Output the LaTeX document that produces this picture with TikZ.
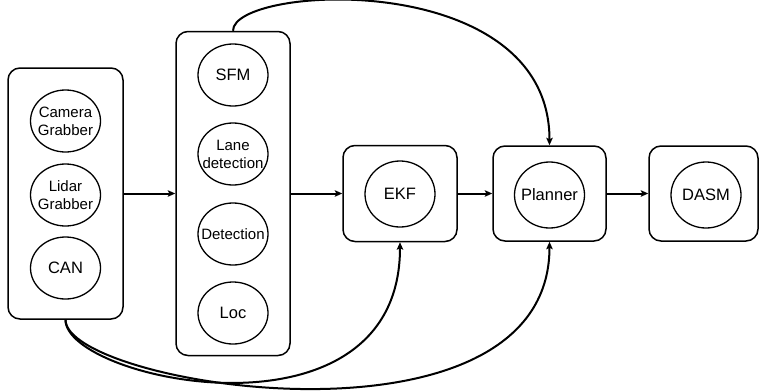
\documentclass[tikz,border=0pt]{standalone}
\usepackage{fontspec}
\setmainfont{Liberation Sans}
\usetikzlibrary{shapes.geometric,arrows.meta}
\tikzset{
  grp/.style={draw, line width=1.5pt, rounded corners=12pt},
  unit/.style={draw, ellipse, line width=1.3pt, inner sep=-8pt,
    minimum width=70pt, minimum height=62pt, align=center,
    font=\fontsize{16.5}{18}\selectfont},
  unitsm/.style={unit, font=\fontsize{15}{18}\selectfont},
  flow/.style={line width=2pt, -{Stealth[length=7.5pt, width=6.5pt, inset=1.5pt]}},
}

\begin{document}
\begin{tikzpicture}[x=1pt, y=-1pt, every node/.style={inner sep=0pt}]

\useasboundingbox (0,0) rectangle (759,391);

% group boxes
\node[grp, minimum width=115pt, minimum height=251pt] (sense)   at (65.5,193.5) {};
\node[grp, minimum width=114pt, minimum height=324pt] (percep)  at (233,193.5) {};
\node[grp, minimum width=114pt, minimum height=96pt]  (ekfbox)  at (400,193.5) {};
\node[grp, minimum width=113pt, minimum height=95pt]  (planbox) at (549.5,193.5) {};
\node[grp, minimum width=109pt, minimum height=95pt]  (dasmbox) at (703.5,193.5) {};

% sensor inputs
\node[unitsm] (cam)   at (65.5,121) {Camera\\Grabber};
\node[unitsm] (lidar) at (65.5,195) {Lidar\\Grabber};
\node[unit]   (can)   at (65.5,268) {CAN};

% perception stack
\node[unit]   (sfm)  at (233,75)  {SFM};
\node[unitsm] (lane) at (233,154) {Lane\\detection};
\node[unitsm] (det)  at (233,234) {Detection};
\node[unit]   (loc)  at (233,313) {Loc};

% single-module stages
\node[unit, minimum height=66pt] (ekf)  at (400,194)   {EKF};
\node[unit, minimum height=66pt] (plan) at (549.5,195) {Planner};
\node[unit, minimum height=66pt] (dasm) at (706,195)   {DASM};

% main chain
\draw[flow] (sense) -- (percep);
\draw[flow] (percep) -- (ekfbox);
\draw[flow] (ekfbox) -- (planbox);
\draw[flow] (planbox) -- (dasmbox);

% bypass links
\draw[flow] (percep.north) .. controls +(0,-46) and +(0,-178) .. (planbox.north);
\draw[flow] (sense.south) .. controls +(0,61) and +(0,209) .. (ekfbox.south);
\draw[flow] (sense.south) .. controls +(0,66) and +(0,221) .. (planbox.south);

\end{tikzpicture}
\end{document}
